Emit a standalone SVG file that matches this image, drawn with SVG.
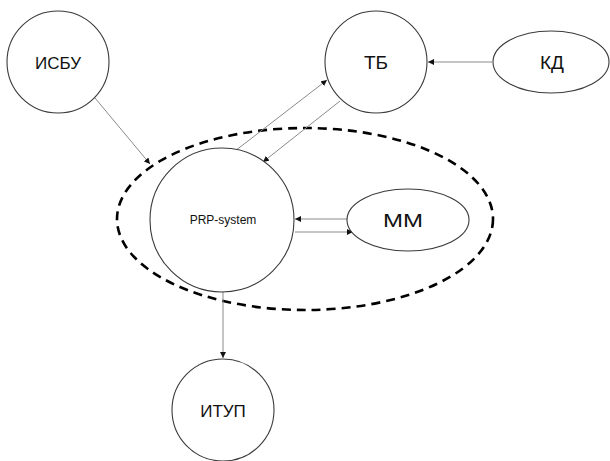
<svg xmlns="http://www.w3.org/2000/svg" width="610" height="461" viewBox="0 0 610 461">
  <style>
    .node { fill: #fff; stroke: #3a3a3a; stroke-width: 1.1; }
    .lbl { font-family: "Liberation Sans", Arial, sans-serif; font-size: 17px; fill: #111; text-anchor: middle; }
    .small { font-size: 12px; }
    .mid { font-size: 19px; }
    .edge { stroke: #8a8a8a; stroke-width: 1; fill: none; marker-end: url(#arr); }
    .boundary { fill: none; stroke: #000; stroke-width: 2.6; stroke-dasharray: 9 6; }
  </style>
  <defs>
    <marker id="arr" viewBox="0 0 10 10" refX="10" refY="5" markerWidth="6" markerHeight="6" markerUnits="userSpaceOnUse" orient="auto">
      <path d="M0,0 L10,5 L0,10 z" fill="#111"/>
    </marker>
  </defs>

  <rect width="610" height="461" fill="#fff"/>

  <!-- system boundary -->
  <ellipse class="boundary" cx="305" cy="219" rx="188" ry="91"/>

  <g id="connectors">
    <line class="edge" x1="95" y1="98" x2="150" y2="164"/>
    <line class="edge" x1="235" y1="151" x2="327" y2="80"/>
    <line class="edge" x1="340" y1="101" x2="263" y2="162"/>
    <line class="edge" x1="492" y1="62" x2="428" y2="62"/>
    <line class="edge" x1="347" y1="219" x2="295" y2="219"/>
    <line class="edge" x1="295" y1="232" x2="353" y2="232"/>
    <line class="edge" x1="223" y1="291" x2="223" y2="358"/>
  </g>

  <g id="isbu">
    <circle class="node" cx="58" cy="62" r="51"/>
    <text class="lbl" x="58" y="69">ИСБУ</text>
  </g>
  <g id="tb">
    <circle class="node" cx="376" cy="62" r="51"/>
    <text class="lbl mid" x="376" y="69">ТБ</text>
  </g>
  <g id="kd">
    <ellipse class="node" cx="551" cy="62" rx="58" ry="31"/>
    <text class="lbl mid" x="552" y="69">КД</text>
  </g>
  <g id="prp">
    <circle class="node" cx="222" cy="220" r="72"/>
    <text class="lbl small" x="223" y="224">PRP-system</text>
  </g>
  <g id="mm">
    <ellipse class="node" cx="408" cy="220" rx="61" ry="31"/>
    <text class="lbl mid" x="403" y="227" textLength="40" lengthAdjust="spacingAndGlyphs">MM</text>
  </g>
  <g id="itup">
    <circle class="node" cx="223" cy="410" r="51"/>
    <text class="lbl" x="223" y="417">ИТУП</text>
  </g>
</svg>
